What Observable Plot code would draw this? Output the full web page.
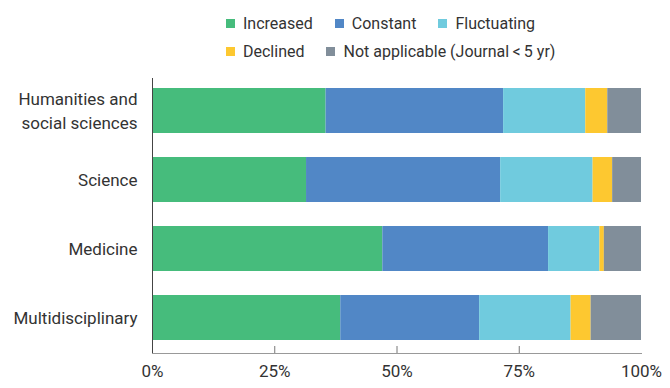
<!DOCTYPE html>
<html><head><meta charset="utf-8">
<script src="https://cdn.jsdelivr.net/npm/d3@7"></script>
<script src="https://cdn.jsdelivr.net/npm/@observablehq/plot@0.6"></script>
<style>
body{margin:0;background:#fff;font-family:Roboto,sans-serif;color:#333}
#legend{height:70px;box-sizing:border-box;padding:9px 0 0 226px;}
.lg{display:flex;flex-wrap:wrap;column-gap:22px;width:350px}
.it{display:flex;align-items:center;height:28px;font-size:16px;white-space:nowrap}
.sw{width:9px;height:9px;margin-right:8px;flex:none}
</style></head><body>
<div id="legend"><div class="lg"></div></div>
<div id="chart"></div>
<script>
const categories = ["Humanities and\nsocial sciences", "Science", "Medicine", "Multidisciplinary"];
const seriesNames = ["Increased", "Constant", "Fluctuating", "Declined", "Not applicable (Journal\u2009<\u20095 yr)"];
const increased   = [35.5, 31.5, 47.1, 38.5];
const constant    = [36.3, 39.7, 33.9, 28.4];
const fluctuating = [16.8, 18.9, 10.5, 18.7];
const declined    = [4.5, 4.0, 0.9, 4.1];
const notApplicable = [6.9, 5.9, 7.6, 10.3];
const colors = ["#46bc7c", "#5187c6", "#70cbde", "#fdc830", "#818e9a"];
const xTicks = [0, 25, 50, 75, 100];
const xInnerTicks = [25, 50, 75];

const seriesValues = [increased, constant, fluctuating, declined, notApplicable];
const table = [];
categories.forEach((c, i) => {
  seriesNames.forEach((s, j) => table.push({category: c, series: s, value: seriesValues[j][i]}));
});

const lg = document.querySelector(".lg");
seriesNames.forEach((s, j) => {
  const it = document.createElement("div");
  it.className = "it";
  const sw = document.createElement("span");
  sw.className = "sw";
  sw.style.background = colors[j];
  const t = document.createElement("span");
  t.textContent = s;
  it.appendChild(sw); it.appendChild(t);
  lg.appendChild(it);
});

const chart = Plot.plot({
  width: 670, height: 318,
  marginTop: 8, marginBottom: 35, marginLeft: 152, marginRight: 29,
  style: {fontFamily: "Roboto, sans-serif", fontSize: "17px", color: "#333", background: "#fff"},
  x: {domain: [0, 100]},
  y: {domain: categories, paddingInner: 0.35, paddingOuter: 0.15, align: 0.42},
  color: {domain: seriesNames, range: colors},
  marks: [
    Plot.barX(table, {x: "value", y: "category", fill: "series"}),
    Plot.frame({anchor: "bottom", stroke: "#999"}),
    Plot.axisX({ticks: xInnerTicks, tickSize: -7, tickFormat: () => "", stroke: "#777", label: null}),
    Plot.axisX({ticks: xTicks, tickSize: 0, tickPadding: 11, tickFormat: d => d + "%", fontSize: 17, fill: "#333", label: null}),
    Plot.axisY({tickSize: 0, tickPadding: 15, fontSize: 17, fill: "#333", lineHeight: 1.4, dy: -2, label: null}),
    Plot.ruleX([0], {stroke: "#444"})
  ]
});
document.getElementById("chart").appendChild(chart);
</script>
</body></html>
